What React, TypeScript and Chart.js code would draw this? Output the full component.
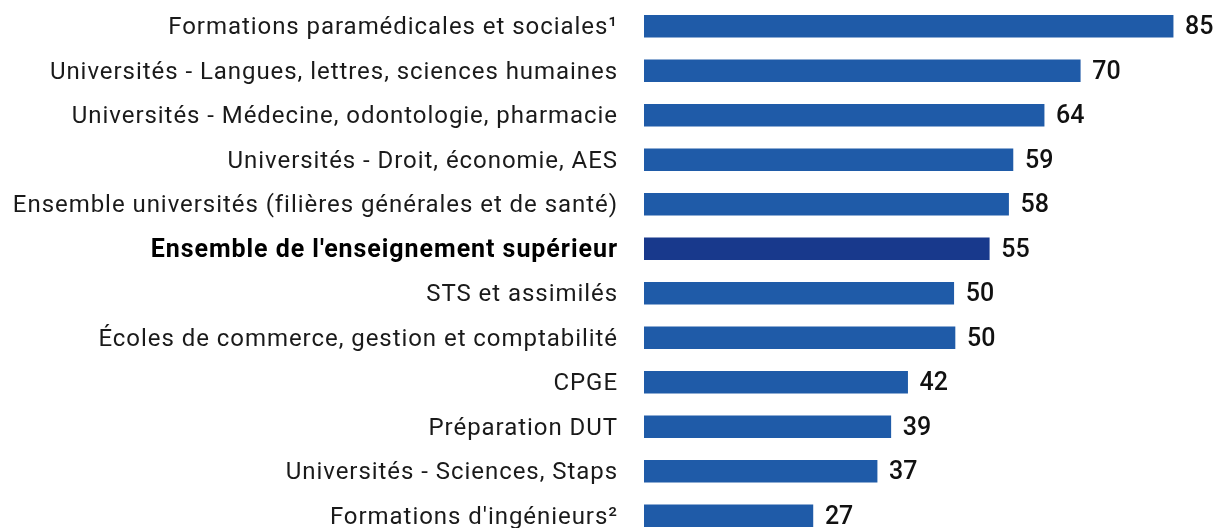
import React, { useEffect, useRef } from "react";
import { Chart, registerables } from "chart.js";

Chart.register(...registerables);

const categories: string[] = [
  "Formations paramédicales et sociales¹",
  "Universités - Langues, lettres, sciences humaines",
  "Universités - Médecine, odontologie, pharmacie",
  "Universités - Droit, économie, AES",
  "Ensemble universités (filières générales et de santé)",
  "Ensemble de l'enseignement supérieur",
  "STS et assimilés",
  "Écoles de commerce, gestion et comptabilité",
  "CPGE",
  "Préparation DUT",
  "Universités - Sciences, Staps",
  "Formations d'ingénieurs²",
];

const values: number[] = [84.9, 70.0, 64.2, 59.2, 58.5, 55.4, 49.7, 49.9, 42.3, 39.6, 37.4, 27.1];
const valueLabels: string[] = ["85", "70", "64", "59", "58", "55", "50", "50", "42", "39", "37", "27"];
const highlightIndex = 5;

const BAR_COLOR = "#1f5ba8";
const BAR_HIGHLIGHT = "#18398c";
const FONT = "Roboto, 'DejaVu Sans', sans-serif";

const spacingPlugin = {
  id: "letterSpacing",
  beforeDraw(chart: any) {
    chart.ctx.letterSpacing = "0.95px";
  },
  afterDraw(chart: any) {
    chart.ctx.letterSpacing = "0px";
  },
};

const valueLabelPlugin = {
  id: "valueLabels",
  afterDatasetsDraw(chart: any) {
    const ctx = chart.ctx;
    const meta = chart.getDatasetMeta(0);
    ctx.save();
    ctx.letterSpacing = "0px";
    ctx.font = `500 25px ${FONT}`;
    ctx.fillStyle = "#111111";
    ctx.textAlign = "left";
    ctx.textBaseline = "middle";
    meta.data.forEach((bar: any, i: number) => {
      ctx.fillText(valueLabels[i], bar.x + 12, bar.y + 1.5);
    });
    ctx.restore();
  },
};

export default function App() {
  const canvasRef = useRef<HTMLCanvasElement | null>(null);

  useEffect(() => {
    const canvas = canvasRef.current;
    if (!canvas) return;
    const chart = new Chart(canvas, {
      type: "bar",
      data: {
        labels: categories,
        datasets: [
          {
            data: values,
            backgroundColor: values.map((_, i) => (i === highlightIndex ? BAR_HIGHLIGHT : BAR_COLOR)),
            barThickness: 22,
            borderWidth: 0,
          },
        ],
      },
      options: {
        indexAxis: "y",
        animation: false,
        responsive: true,
        maintainAspectRatio: false,
        layout: { padding: { top: 4, left: 0, right: 0, bottom: 0 } },
        plugins: {
          legend: { display: false },
          tooltip: { enabled: false },
        },
        scales: {
          x: {
            display: false,
            min: 0,
            max: 91.3,
          },
          y: {
            afterFit: (scale: any) => {
              scale.width = 644;
              scale.paddingTop = 0;
              scale.paddingBottom = 0;
            },
            grid: { display: false },
            border: { display: false },
            ticks: {
              padding: 18,
              labelOffset: 2,
              autoSkip: false,
              color: (ctx: any) => (ctx.index === highlightIndex ? "#000000" : "#1a1a1a"),
              font: (ctx: any) => ({
                family: FONT,
                size: ctx.index === highlightIndex ? 25 : 24,
                weight: ctx.index === highlightIndex ? "bold" : "normal",
              }),
            },
          },
        },
      },
      plugins: [spacingPlugin, valueLabelPlugin],
    });
    return () => chart.destroy();
  }, []);

  return (
    <div style={{ position: "absolute", left: 0, top: 0, width: 1213, height: 538, overflow: "hidden", background: "#fff" }}>
      <canvas ref={canvasRef} />
    </div>
  );
}
